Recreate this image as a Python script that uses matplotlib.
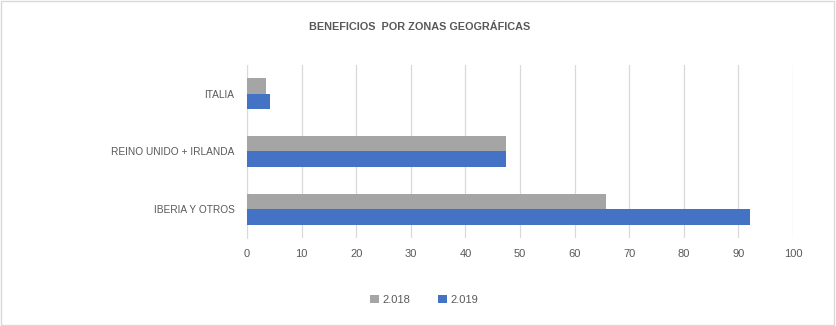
import matplotlib
matplotlib.use("Agg")
import matplotlib.pyplot as plt
import numpy as np
from matplotlib.patches import Rectangle

# Profit by region, two years
zonas = ["IBERIA Y OTROS", "REINO UNIDO + IRLANDA", "ITALIA"]
valores_2018 = [65.7, 47.5, 3.5]
valores_2019 = [92.1, 47.5, 4.2]
series = ["2.018", "2.019"]
x_ticks = [0, 10, 20, 30, 40, 50, 60, 70, 80, 90, 100]

GRIS = "#A5A5A5"
AZUL = "#4472C4"
TEXTO = "#595959"
REJILLA = "#D9D9D9"

plt.rcParams["font.family"] = ["Liberation Sans", "DejaVu Sans"]

fig = plt.figure(figsize=(8.36, 3.26), dpi=100)
ax = fig.add_axes([0.2955, 0.27, 0.6531, 0.5306])

y = np.arange(len(zonas))
h = 0.27
ax.barh(y + h / 2, valores_2018, height=h, color=GRIS, label=series[0], zorder=3)
ax.barh(y - h / 2, valores_2019, height=h, color=AZUL, label=series[1], zorder=3)

ax.set_xlim(0, 100)
ax.set_ylim(-0.5, 2.5)
ax.set_xticks(x_ticks)
ax.set_yticks(y)
ax.set_yticklabels(zonas)
ax.tick_params(axis="both", length=0, colors=TEXTO)
ax.tick_params(axis="x", pad=8, labelsize=8)
ax.tick_params(axis="y", pad=9, labelsize=7.3)
ax.grid(axis="x", color=REJILLA, linewidth=0.9, zorder=0)
for side in ("top", "right", "bottom"):
    ax.spines[side].set_visible(False)
ax.spines["left"].set_color(REJILLA)

fig.text(0.5025, 0.917, "BENEFICIOS  POR ZONAS GEOGRÁFICAS", ha="center", va="center",
         fontsize=7.8, color=TEXTO, fontweight="bold")

handles, labels = ax.get_legend_handles_labels()
leg = fig.legend(handles, labels, loc="center", bbox_to_anchor=(0.507, 0.08), ncol=2,
                 frameon=False, fontsize=8, handlelength=0.8, handleheight=0.8,
                 columnspacing=2.5, handletextpad=0.3)
for t in leg.get_texts():
    t.set_color(TEXTO)

# light frame around the whole chart
fig.patches.append(Rectangle((0.001, 0.002), 0.997, 0.995, transform=fig.transFigure,
                             fill=False, edgecolor=REJILLA, linewidth=1))

fig.savefig("out.png", dpi=100, facecolor="white")
plt.close(fig)
